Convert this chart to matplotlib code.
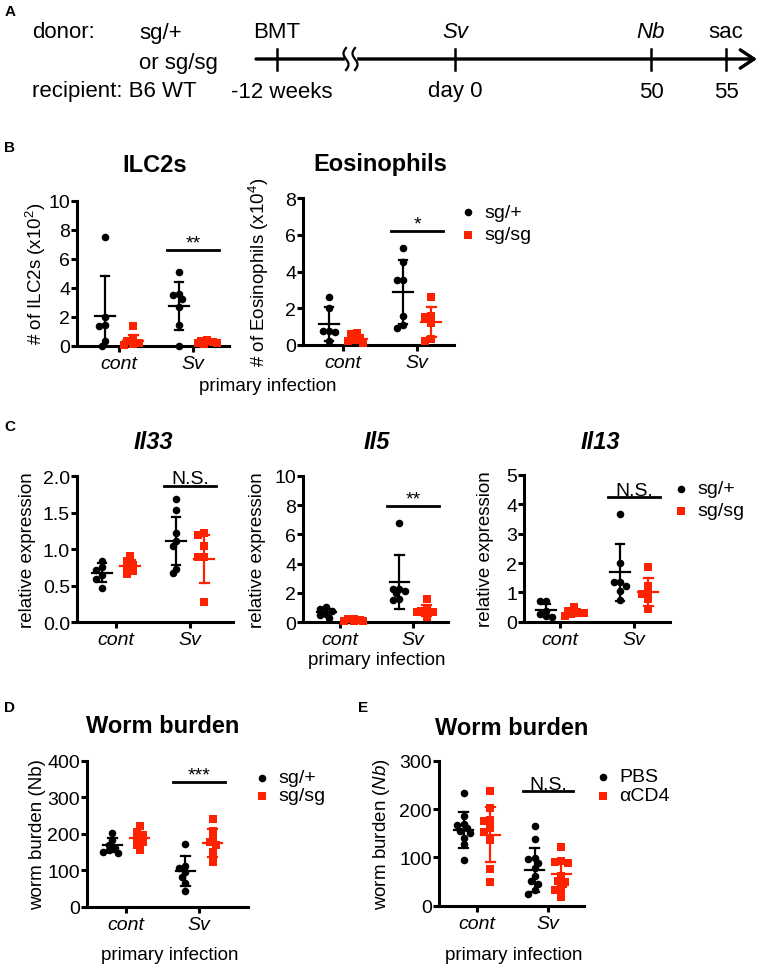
import numpy as np
import matplotlib.pyplot as plt

plt.rcParams['font.family'] = ['Liberation Sans', 'DejaVu Sans']
plt.rcParams['mathtext.fontset'] = 'custom'
plt.rcParams['mathtext.rm'] = 'Liberation Sans'
plt.rcParams['mathtext.it'] = 'Liberation Sans:italic'
plt.rcParams['mathtext.bf'] = 'Liberation Sans:bold'

RED = '#ff2200'

# ---- data ----
groups = ['cont', 'Sv']

# B: ILC2s (x10^2)
ilc2_wt_cont = [7.45, 1.95, 1.38, 1.33, 0.34, 0.0]
ilc2_sg_cont = [1.33, 0.40, 0.30, 0.15, 0.08, 0.02]
ilc2_wt_sv = [5.05, 3.55, 3.46, 3.20, 2.66, 1.44, 0.0]
ilc2_sg_sv = [0.35, 0.30, 0.25, 0.20, 0.15, 0.10]
ilc2_mean = [2.04, 0.30, 2.70, 0.22]
ilc2_sd = [2.73, 0.39, 1.65, 0.10]

# B: Eosinophils (x10^4)
eos_wt_cont = [2.62, 2.02, 0.78, 0.75, 0.72, 0.24]
eos_sg_cont = [0.65, 0.60, 0.40, 0.30, 0.20, 0.12]
eos_wt_sv = [5.31, 4.55, 3.56, 3.56, 1.60, 1.09, 0.91]
eos_sg_sv = [2.60, 1.60, 1.50, 1.20, 0.30, 0.20]
eos_mean = [1.15, 0.33, 2.89, 1.24]
eos_sd = [0.94, 0.20, 1.75, 0.82]

# C: Il33
il33_wt_cont = [0.84, 0.76, 0.72, 0.65, 0.60, 0.47]
il33_sg_cont = [0.91, 0.84, 0.79, 0.75, 0.70, 0.66]
il33_wt_sv = [1.69, 1.54, 1.22, 1.12, 1.05, 0.73, 0.67]
il33_sg_sv = [1.22, 1.19, 1.05, 0.90, 0.90, 0.28]
il33_mean = [0.68, 0.77, 1.11, 0.87]
il33_sd = [0.13, 0.08, 0.33, 0.33]

# C: Il5
il5_wt_cont = [1.05, 0.90, 0.80, 0.60, 0.50, 0.30]
il5_sg_cont = [0.25, 0.20, 0.15, 0.12, 0.10, 0.08]
il5_wt_sv = [6.75, 2.30, 2.27, 2.16, 2.00, 1.60, 1.50]
il5_sg_sv = [1.60, 0.90, 0.80, 0.72, 0.70, 0.35]
il5_mean = [0.68, 0.15, 2.77, 0.80]
il5_sd = [0.25, 0.06, 1.83, 0.40]

# C: Il13
il13_wt_cont = [0.72, 0.72, 0.38, 0.25, 0.18, 0.15]
il13_sg_cont = [0.49, 0.38, 0.34, 0.30, 0.26, 0.20]
il13_wt_sv = [3.67, 2.00, 1.36, 1.34, 1.23, 1.06, 0.75]
il13_sg_sv = [1.85, 1.20, 0.98, 0.95, 0.77, 0.43]
il13_mean = [0.41, 0.30, 1.68, 1.02]
il13_sd = [0.20, 0.10, 0.97, 0.47]

# D: worm burden, sg/+ vs sg/sg
wbd_wt_cont = [203, 183, 170, 160, 155, 150, 148]
wbd_sg_cont = [220, 206, 196, 186, 176, 170, 155]
wbd_wt_sv = [173, 112, 106, 94, 82, 66, 44]
wbd_sg_sv = [240, 208, 190, 178, 170, 150, 122]
wbd_mean = [169, 189, 98, 175]
wbd_sd = [18, 17, 40, 38]

# E: worm burden, PBS vs aCD4
wbe_pbs_cont = [233, 186, 169, 166, 160, 155, 150, 140, 128, 95]
wbe_cd4_cont = [238, 203, 178, 175, 160, 152, 135, 76, 50]
wbe_pbs_sv = [165, 138, 98, 96, 88, 78, 62, 52, 45, 33, 25]
wbe_cd4_sv = [121, 92, 90, 88, 62, 52, 50, 35, 32, 17]
wbe_mean = [157, 147, 74, 66]
wbe_sd = [37, 57, 45, 27]

# timeline (panel A)
tl_events = ['BMT', 'Sv', 'Nb', 'sac']
tl_italic = [False, True, True, False]
tl_times = ['-12 weeks', 'day 0', '50', '55']

W, H = 765, 970
fig = plt.figure(figsize=(W / 100, H / 100), dpi=100)

ov = fig.add_axes([0, 0, 1, 1])
ov.set_xlim(0, W)
ov.set_ylim(H, 0)
ov.axis('off')
ov.set_zorder(10)


def frac(x0, x1, ytop, ybot):
    return [x0 / W, 1 - ybot / H, (x1 - x0) / W, (ybot - ytop) / H]


def swarm(vals, ppu, diam=7.5):
    # simple dot-plot spreading in pixel units
    order = np.argsort(vals)[::-1]
    placed = []
    offs = np.zeros(len(vals))
    step = diam * 0.42
    for i in order:
        y = vals[i] * ppu
        best, bestpen = 0.0, None
        for k in [0, -1, 1, -2, 2, -3, 3]:
            x = k * step
            pen = sum(max(0, diam * 0.7 - np.hypot(x - px, y - py)) for px, py in placed)
            if pen == 0:
                best, bestpen = x, 0
                break
            if bestpen is None or pen < bestpen - 1e-9:
                best, bestpen = x, pen
        placed.append((best, y))
        offs[i] = best
    return offs


def panel(box, ymax, ystep, data, means, sds, ylabel, ylab_off, fmt='{:g}',
          sig_y=None, sig_txt=''):
    x0, x1, yt, yb, g0, g1 = box
    s = g1 - g0
    ax = fig.add_axes(frac(x0, x1, yt, yb))
    ax.set_facecolor('none')
    ax.set_xlim((x0 - g0) / s, (x1 - g0) / s)
    ax.set_ylim(0, ymax)
    ppu = (yb - yt) / ymax
    pos = [-0.19, 0.19, 0.81, 1.19]
    cols = ['black', RED, 'black', RED]
    mks = ['o', 's', 'o', 's']
    sizes = [30, 26, 30, 26]
    for p, v, m, sd, c, mk, sz in zip(pos, data, means, sds, cols, mks, sizes):
        v = np.asarray(v, float)
        xs = p + swarm(v, ppu) / s
        ax.scatter(xs, v, s=sz, marker=mk, color=c, linewidths=0, clip_on=False, zorder=3)
        ax.plot([p - 0.13, p + 0.13], [m, m], color=c, lw=1.6, zorder=4)
        ax.plot([p, p], [m - sd, m + sd], color=c, lw=1.6, zorder=4)
        ax.plot([p - 0.06, p + 0.06], [m + sd, m + sd], color=c, lw=1.6, zorder=4)
        ax.plot([p - 0.06, p + 0.06], [m - sd, m - sd], color=c, lw=1.6, zorder=4)
    for sp in ['top', 'right']:
        ax.spines[sp].set_visible(False)
    for sp in ['left', 'bottom']:
        ax.spines[sp].set_linewidth(2.2)
    ax.set_xticks([0, 1])
    ax.set_xticklabels(groups, fontsize=14, style='italic')
    yt_vals = np.arange(0, ymax + ystep / 2, ystep)
    ax.set_yticks(yt_vals)
    ax.set_yticklabels([fmt.format(t) for t in yt_vals], fontsize=14)
    ax.tick_params(axis='both', width=2.2, length=4, direction='out')
    ax.tick_params(axis='y', pad=1)
    ax.tick_params(axis='x', pad=2.5)
    ax.set_ylabel(ylabel, fontsize=13.5)
    ax.yaxis.set_label_coords(-ylab_off / (x1 - x0), 0.5)
    if sig_y is not None:
        ax.plot([0.65, 1.35], [sig_y, sig_y], color='black', lw=2, clip_on=False)
        ax.text(1.0, sig_y + 2.5 / ppu, sig_txt, ha='center', va='baseline', fontsize=14)
    return ax


# ---- panel A: timeline ----
ov.text(32, 33, 'donor:', va='center', fontsize=16)
ov.text(139, 33, 'sg/+', va='center', fontsize=16)
ov.text(139, 63, 'or sg/sg', va='center', fontsize=16)
ov.text(32, 91, 'recipient: B6 WT', va='center', fontsize=16)
tl_y = 60
ov.annotate('', xy=(757, tl_y), xytext=(256, tl_y),
            arrowprops=dict(arrowstyle='->, head_length=0.45, head_width=0.3', lw=2.4,
                            color='black', shrinkA=0, shrinkB=0, mutation_scale=22))
ov.fill_between([345, 356], tl_y - 3, tl_y + 3, color='white', zorder=3)
tt = np.linspace(-1, 1, 60)
for xc in [346, 355]:
    ov.plot(xc + 2.5 * np.sin(np.pi * tt), tl_y + 11 * tt, color='black', lw=1.6, zorder=4)
tl_x = [277, 455, 651, 726]
for xv, ev, it, tm in zip(tl_x, tl_events, tl_italic, tl_times):
    ov.plot([xv, xv], [tl_y - 10, tl_y + 11], color='black', lw=1.8)
    ov.text(xv, 33, ev, ha='center', va='center', fontsize=16, style='italic' if it else 'normal')
    ov.text(xv + (5 if tm.startswith('-') else 0), 92, tm, ha='center', va='center', fontsize=16)

# ---- panel B ----
panel((77, 229, 201.5, 346.5, 119, 193), 10, 2,
      [ilc2_wt_cont, ilc2_sg_cont, ilc2_wt_sv, ilc2_sg_sv], ilc2_mean, ilc2_sd,
      r'# of ILC2s (x10$^{2}$)', 29, sig_y=6.56, sig_txt='**')
panel((303, 454, 199.3, 346, 343, 417), 8, 2,
      [eos_wt_cont, eos_sg_cont, eos_wt_sv, eos_sg_sv], eos_mean, eos_sd,
      r'# of Eosinophils (x10$^{4}$)', 32, sig_y=6.22, sig_txt='*')

# ---- panel C ----
panel((77, 233, 477.3, 623.3, 116, 190), 2.0, 0.5,
      [il33_wt_cont, il33_sg_cont, il33_wt_sv, il33_sg_sv], il33_mean, il33_sd,
      'relative expression', 41, fmt='{:.1f}', sig_y=1.87, sig_txt='N.S.')
panel((303, 448, 476.7, 623.3, 340, 413), 10, 2,
      [il5_wt_cont, il5_sg_cont, il5_wt_sv, il5_sg_sv], il5_mean, il5_sd,
      'relative expression', 37, sig_y=7.95, sig_txt='**')
panel((524, 670, 476, 622.7, 560, 634), 5, 1,
      [il13_wt_cont, il13_sg_cont, il13_wt_sv, il13_sg_sv], il13_mean, il13_sd,
      'relative expression', 30, sig_y=4.24, sig_txt='N.S.')

# ---- panels D and E ----
panel((87, 248, 761.7, 907.7, 126, 199), 400, 100,
      [wbd_wt_cont, wbd_sg_cont, wbd_wt_sv, wbd_sg_sv], wbd_mean, wbd_sd,
      'worm burden (Nb)', 41, sig_y=342, sig_txt='***')
panel((439, 584, 761.7, 906.7, 477, 548), 300, 100,
      [wbe_pbs_cont, wbe_cd4_cont, wbe_pbs_sv, wbe_cd4_sv], wbe_mean, wbe_sd,
      r'worm burden ($\mathit{Nb}$)', 47, sig_y=237, sig_txt='N.S.')

# ---- titles, x labels, legends, panel letters ----
ov.text(155, 165, 'ILC2s', ha='center', va='center', fontsize=17, weight='bold')
ov.text(380, 165, 'Eosinophils', ha='center', va='center', fontsize=17, weight='bold')
ov.text(153, 443, 'Il33', ha='center', va='center', fontsize=17, weight='bold', style='italic')
ov.text(377, 443, 'Il5', ha='center', va='center', fontsize=17, weight='bold', style='italic')
ov.text(600, 443, 'Il13', ha='center', va='center', fontsize=17, weight='bold', style='italic')
ov.text(163, 727, 'Worm burden', ha='center', va='center', fontsize=17, weight='bold')
ov.text(512, 729, 'Worm burden', ha='center', va='center', fontsize=17, weight='bold')

for xl, yl in [(268, 387), (377, 661), (170, 956), (514, 956)]:
    ov.text(xl, yl, 'primary infection', ha='center', va='center', fontsize=13.5)


def legend(x, y0, y1, labels):
    ov.scatter([x], [y0], s=30, marker='o', color='black', linewidths=0)
    ov.scatter([x], [y1], s=26, marker='s', color=RED, linewidths=0)
    ov.text(x + 16, y0, labels[0], va='center', fontsize=14)
    ov.text(x + 16, y1, labels[1], va='center', fontsize=14)


legend(468, 213, 236, ['sg/+', 'sg/sg'])
legend(681, 490, 512, ['sg/+', 'sg/sg'])
legend(262, 779, 797, ['sg/+', 'sg/sg'])
legend(603, 778, 797, ['PBS', 'αCD4'])

for lt, xp, yp in [('A', 10, 12), ('B', 10, 148), ('C', 10, 427), ('D', 10, 708), ('E', 363, 708)]:
    ov.text(xp, yp, lt, ha='center', va='center', fontsize=11, weight='bold')

fig.savefig('out.png', dpi=100)
